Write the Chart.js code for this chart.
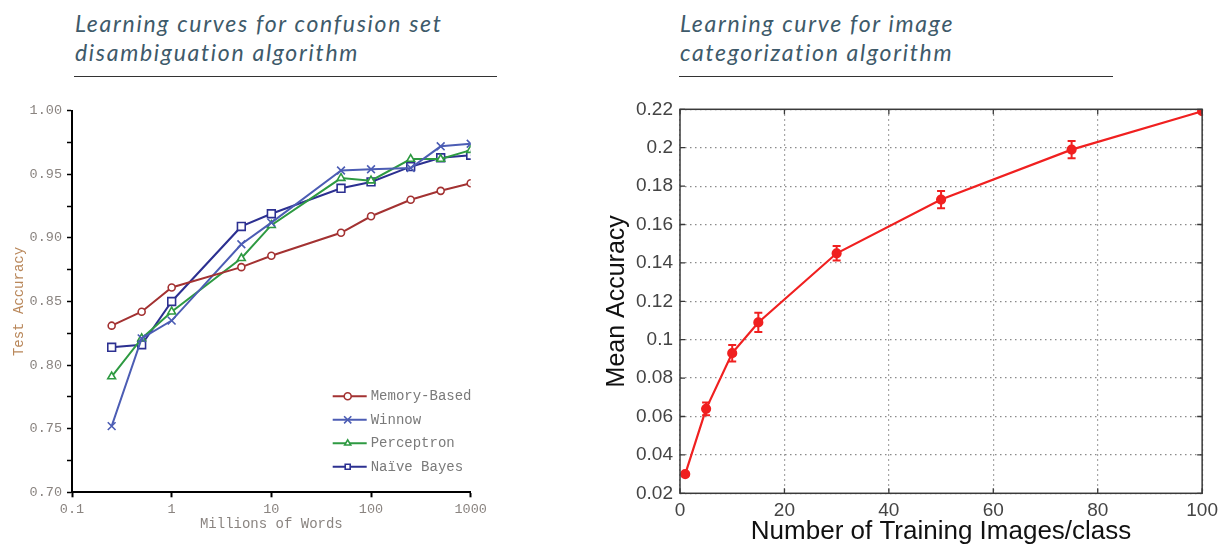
<!DOCTYPE html>
<html>
<head>
<meta charset="utf-8">
<script src="https://cdn.jsdelivr.net/npm/chart.js@4.4.1/dist/chart.umd.min.js"></script>
<style>
  body { margin: 0; background: #fff; width: 1224px; height: 544px; overflow: hidden; position: relative; }
  .title { position: absolute; top: 9px; font-family: Lato, "Open Sans", sans-serif; font-style: italic;
           font-size: 23px; line-height: 29px; color: #3e5a6a; letter-spacing: 1.7px; }
  .rule { position: absolute; top: 76px; height: 0; border-top: 1.5px solid #333; }
  canvas { position: absolute; top: 90px; }
</style>
</head>
<body>
<div class="title" style="left:75px">Learning curves for confusion set<br>disambiguation algorithm</div>
<div class="rule" style="left:74px; width:423px"></div>
<div class="title" style="left:680px">Learning curve for image<br>categorization algorithm</div>
<div class="rule" style="left:679px; width:434px"></div>

<canvas id="wordsChart" width="520" height="454" style="left:0px"></canvas>
<canvas id="imagesChart" width="634" height="454" style="left:590px"></canvas>

<script>
// left chart: test accuracy vs millions of words
const wordsMillions = [0.25, 0.5, 1, 5, 10, 50, 100, 250, 500, 1000];
const memoryBased = [0.831, 0.842, 0.861, 0.877, 0.886, 0.904, 0.917, 0.930, 0.937, 0.943];
const winnow = [0.752, 0.821, 0.835, 0.895, 0.912, 0.953, 0.954, 0.955, 0.972, 0.974];
const perceptron = [0.791, 0.821, 0.842, 0.884, 0.910, 0.947, 0.945, 0.962, 0.962, 0.969];
const naiveBayes = [0.814, 0.816, 0.850, 0.909, 0.919, 0.939, 0.944, 0.956, 0.963, 0.965];
const wordTicks = [0.1, 1, 10, 100, 1000];

// right chart: mean accuracy vs training images per class
const imagesPerClass = [1, 5, 10, 15, 30, 50, 75, 100];
const meanAccuracy = [0.030, 0.064, 0.093, 0.109, 0.145, 0.173, 0.199, 0.219];
const accuracyErr = [0.001, 0.0033, 0.0043, 0.005, 0.0038, 0.0045, 0.0045, 0];

const mono = "'Liberation Mono', 'DejaVu Sans Mono', monospace";
const sans = "'Liberation Sans', Arial, sans-serif";

function pairs(xs, ys) {
    return xs.map((x, i) => ({ x: x, y: ys[i] }));
}

function series(label, values, color, style, radius, fill) {
    return {
        label: label,
        data: pairs(wordsMillions, values),
        borderColor: color,
        backgroundColor: fill,
        borderWidth: 2,
        pointStyle: style,
        pointRadius: radius,
        pointBorderColor: color,
        pointBackgroundColor: fill,
        pointBorderWidth: 1.6,
        tension: 0
    };
}

function drawMarker(ctx, style, x, y, r, color) {
    ctx.save();
    ctx.strokeStyle = color;
    ctx.fillStyle = "#fff";
    ctx.lineWidth = 1.6;
    ctx.beginPath();
    if (style === "circle") {
        ctx.arc(x, y, r, 0, Math.PI * 2);
        ctx.fill();
    } else if (style === "crossRot") {
        ctx.moveTo(x - r * 0.8, y - r * 0.8); ctx.lineTo(x + r * 0.8, y + r * 0.8);
        ctx.moveTo(x + r * 0.8, y - r * 0.8); ctx.lineTo(x - r * 0.8, y + r * 0.8);
    } else if (style === "triangle") {
        ctx.moveTo(x, y - r); ctx.lineTo(x + r * 0.87, y + r * 0.5); ctx.lineTo(x - r * 0.87, y + r * 0.5);
        ctx.closePath();
        ctx.fill();
    } else {
        const s = r * 0.71;
        ctx.rect(x - s, y - s, s * 2, s * 2);
        ctx.fill();
    }
    ctx.stroke();
    ctx.restore();
}

// legend drawn inside the plot, lower right
const wordsLegend = {
    id: "wordsLegend",
    afterDraw(chart) {
        const ctx = chart.ctx;
        const area = chart.chartArea;
        const x0 = area.right - 138;
        let y = area.bottom - 96;
        chart.data.datasets.forEach(ds => {
            ctx.save();
            ctx.strokeStyle = ds.borderColor;
            ctx.lineWidth = 2;
            ctx.beginPath();
            ctx.moveTo(x0, y);
            ctx.lineTo(x0 + 34, y);
            ctx.stroke();
            ctx.restore();
            drawMarker(ctx, ds.pointStyle, x0 + 15, y, ds.pointStyle === "crossRot" ? 4.5 : 3.5, ds.borderColor);
            ctx.fillStyle = "#7a7a7a";
            ctx.font = "14px " + mono;
            ctx.textBaseline = "middle";
            ctx.fillText(ds.label, x0 + 38, y);
            y += 23.5;
        });
    }
};

new Chart(document.getElementById("wordsChart"), {
    type: "line",
    data: {
        datasets: [
            series("Memory-Based", memoryBased, "#a33232", "circle", 3.5, "#ffffff"),
            series("Winnow", winnow, "#4c5db4", "crossRot", 5.5, "#4c5db4"),
            series("Perceptron", perceptron, "#2e9a42", "triangle", 4.5, "#ffffff"),
            series("Naïve Bayes", naiveBayes, "#2c3091", "rect", 5.5, "#ffffff")
        ]
    },
    options: {
        responsive: false,
        animation: false,
        layout: { padding: { left: 0, top: 20.7, right: 49.3, bottom: 0 } },
        plugins: { legend: { display: false }, tooltip: { enabled: false } },
        scales: {
            x: {
                type: "logarithmic",
                min: 0.1,
                max: 1000,
                afterBuildTicks: scale => { scale.ticks = wordTicks.map(v => ({ value: v })); },
                afterFit: scale => { scale.height = 51.7; },
                grid: { drawOnChartArea: false, color: "#000", tickLength: 5, tickWidth: 2 },
                border: { color: "#000", width: 2 },
                ticks: {
                    autoSkip: false, maxRotation: 0, padding: 4,
                    color: "#8a8480", font: { family: mono, size: 13.5 },
                    callback: v => String(v)
                },
                title: { display: true, text: "Millions of Words", color: "#8a8480",
                         font: { family: mono, size: 14 }, padding: { top: 0, bottom: 11 } }
            },
            y: {
                min: 0.70,
                max: 1.00,
                afterFit: scale => { scale.width = 72; },
                grid: { drawOnChartArea: false, color: "#000", tickLength: 5, tickWidth: 1.5 },
                border: { color: "#000", width: 2 },
                ticks: {
                    stepSize: 0.025, autoSkip: false, padding: 5,
                    color: "#8a8480", font: { family: mono, size: 13.5 },
                    callback: (v, i) => (i % 2 === 0 ? v.toFixed(2) : "")
                },
                title: { display: true, text: "Test Accuracy", color: "#b9875a",
                         font: { family: mono, size: 14 }, padding: { top: 11, bottom: 0 } }
            }
        }
    },
    plugins: [wordsLegend]
});

// error bars, box outline and inward ticks for the right chart
const imagesDecor = {
    id: "imagesDecor",
    afterDatasetsDraw(chart) {
        const ctx = chart.ctx;
        const xs = chart.scales.x, ys = chart.scales.y;
        ctx.save();
        ctx.strokeStyle = "#f02020";
        ctx.lineWidth = 2;
        imagesPerClass.forEach((n, i) => {
            if (!accuracyErr[i]) return;
            const px = xs.getPixelForValue(n);
            const top = ys.getPixelForValue(meanAccuracy[i] + accuracyErr[i]);
            const bot = ys.getPixelForValue(meanAccuracy[i] - accuracyErr[i]);
            ctx.beginPath();
            ctx.moveTo(px, top); ctx.lineTo(px, bot);
            ctx.moveTo(px - 4, top); ctx.lineTo(px + 4, top);
            ctx.moveTo(px - 4, bot); ctx.lineTo(px + 4, bot);
            ctx.stroke();
        });
        ctx.restore();
    },
    afterDraw(chart) {
        const ctx = chart.ctx;
        const a = chart.chartArea;
        const xs = chart.scales.x, ys = chart.scales.y;
        ctx.save();
        ctx.strokeStyle = "#3a3a3a";
        ctx.lineWidth = 1.3;
        ctx.beginPath();
        xs.ticks.forEach(t => {
            const px = xs.getPixelForValue(t.value);
            ctx.moveTo(px, a.bottom); ctx.lineTo(px, a.bottom - 5);
            ctx.moveTo(px, a.top); ctx.lineTo(px, a.top + 5);
        });
        ys.ticks.forEach(t => {
            const py = ys.getPixelForValue(t.value);
            ctx.moveTo(a.left, py); ctx.lineTo(a.left + 5, py);
            ctx.moveTo(a.right, py); ctx.lineTo(a.right - 5, py);
        });
        ctx.stroke();
        ctx.lineWidth = 1.5;
        ctx.strokeRect(a.left, a.top, a.right - a.left, a.bottom - a.top);
        ctx.restore();
    }
};

new Chart(document.getElementById("imagesChart"), {
    type: "line",
    data: {
        datasets: [{
            label: "Mean Accuracy",
            data: pairs(imagesPerClass, meanAccuracy),
            borderColor: "#f02020",
            backgroundColor: "#f02020",
            borderWidth: 2.2,
            pointRadius: 4,
            pointBackgroundColor: "#f02020",
            pointBorderColor: "#f02020",
            tension: 0
        }]
    },
    options: {
        responsive: false,
        animation: false,
        layout: { padding: { left: 0, top: 19.3, right: 20, bottom: 0 } },
        plugins: { legend: { display: false }, tooltip: { enabled: false } },
        scales: {
            x: {
                type: "linear",
                min: 0,
                max: 100,
                afterFit: scale => { scale.height = 50.7; },
                grid: { drawTicks: false, color: "#8a8a8a", lineWidth: 1.2 },
                border: { display: false, dash: [1.5, 3.5] },
                ticks: { stepSize: 20, padding: 6, color: "#444", font: { family: sans, size: 19 } },
                title: { display: true, text: "Number of Training Images/class", color: "#111",
                         font: { family: sans, size: 26 }, padding: { top: 0, bottom: -3 } }
            },
            y: {
                min: 0.02,
                max: 0.22,
                afterFit: scale => { scale.width = 90; },
                grid: { drawTicks: false, color: "#8a8a8a", lineWidth: 1.2 },
                border: { display: false, dash: [1.5, 3.5] },
                ticks: {
                    stepSize: 0.02, padding: 7, color: "#444", font: { family: sans, size: 19 },
                    callback: v => String(Number(v.toFixed(2)))
                },
                title: { display: true, text: "Mean Accuracy", color: "#111",
                         font: { family: sans, size: 25 }, padding: { top: 12, bottom: 0 } }
            }
        }
    },
    plugins: [imagesDecor]
});
</script>
</body>
</html>
